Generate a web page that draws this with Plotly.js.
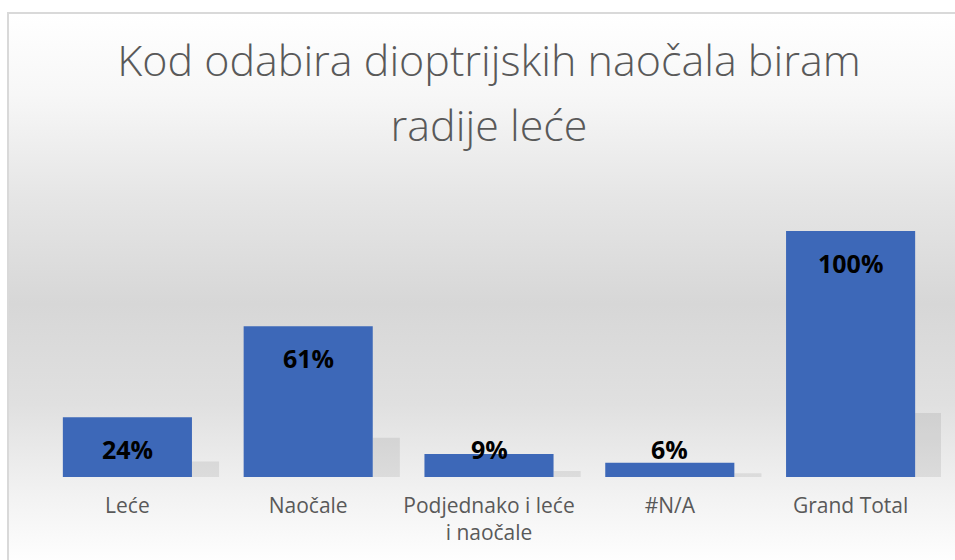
<!DOCTYPE html>
<html>
<head>
<meta charset="utf-8">
<script src="https://cdn.plot.ly/plotly-3.0.1.min.js"></script>
<style>
  html, body { margin: 0; padding: 0; background: #ffffff; }
  #wrap { position: relative; width: 955px; height: 560px; overflow: hidden; }
  #bg {
    position: absolute; left: 7px; top: 12px; width: 960px; height: 560px;
    border-left: 2px solid #d9d9d9; border-top: 2px solid #d9d9d9;
    background: linear-gradient(to bottom, #ffffff 0px, #f7f7f7 80px, #e6e6e6 180px, #d7d7d7 290px, #e0e0e0 390px, #f2f2f2 480px, #fefefe 548px);
  }
  #chart { position: absolute; left: 0; top: 0; width: 955px; height: 560px; }
</style>
</head>
<body>
<div id="wrap">
  <div id="bg"></div>
  <div id="chart"></div>
</div>
<script>
const categories = ["Leće", "Naočale", "Podjednako i leće i naočale", "#N/A", "Grand Total"];
const tickLabels = ["Leće", "Naočale", "Podjednako i leće<br>i naočale", "#N/A", "Grand Total"];
const values = [0.243, 0.613, 0.094, 0.058, 1.0];
const valueLabels = ["24%", "61%", "9%", "6%", "100%"];
const titleText = "Kod odabira dioptrijskih naočala biram<br>radije leće";

const bars = {
  type: "bar",
  x: categories,
  y: values,
  marker: { color: "#3d68b8" },
  textposition: "none",
  hoverinfo: "x+y",
  showlegend: false
};

const shadows = {
  type: "bar",
  x: categories,
  y: values.map(v => v * 0.26),
  width: 0.15,
  offset: 0.357,
  marker: { color: "rgba(0,0,0,0.08)" },
  hoverinfo: "skip",
  showlegend: false
};

const annotations = categories.map((c, i) => ({
  x: c,
  y: Math.max(values[i], 0.243),
  yref: "y",
  xref: "x",
  yshift: -32,
  text: "<b>" + valueLabels[i] + "</b>",
  showarrow: false,
  font: { family: "Open Sans, sans-serif", size: 25, color: "#000000" }
}));

const layout = {
  width: 955,
  height: 560,
  margin: { l: 37, r: 14, t: 231, b: 83 },
  paper_bgcolor: "rgba(0,0,0,0)",
  plot_bgcolor: "rgba(0,0,0,0)",
  barmode: "overlay",
  bargap: 0.286,
  title: {
    text: titleText,
    x: 0.512,
    xanchor: "center",
    y: 1 - 76 / 560,
    yanchor: "top",
    yref: "container",
    font: { family: "Open Sans, sans-serif", size: 43, color: "#595959", weight: 300 }
  },
  xaxis: {
    type: "category",
    range: [-0.5, 4.5],
    tickvals: categories,
    ticktext: tickLabels,
    showgrid: false,
    zeroline: false,
    showline: false,
    ticks: "",
    ticklabelstandoff: 14,
    tickfont: { family: "Open Sans, sans-serif", size: 21, color: "#595959" }
  },
  yaxis: {
    range: [0, 1],
    visible: false,
    showgrid: false,
    zeroline: false
  },
  annotations: annotations
};

Plotly.newPlot("chart", [shadows, bars], layout, { displayModeBar: false, staticPlot: true }).then(() => {
  const lines = document.querySelectorAll(".gtitle tspan.line");
  lines.forEach((t, i) => { if (i > 0) t.setAttribute("dy", "1.5em"); });
});
</script>
</body>
</html>
